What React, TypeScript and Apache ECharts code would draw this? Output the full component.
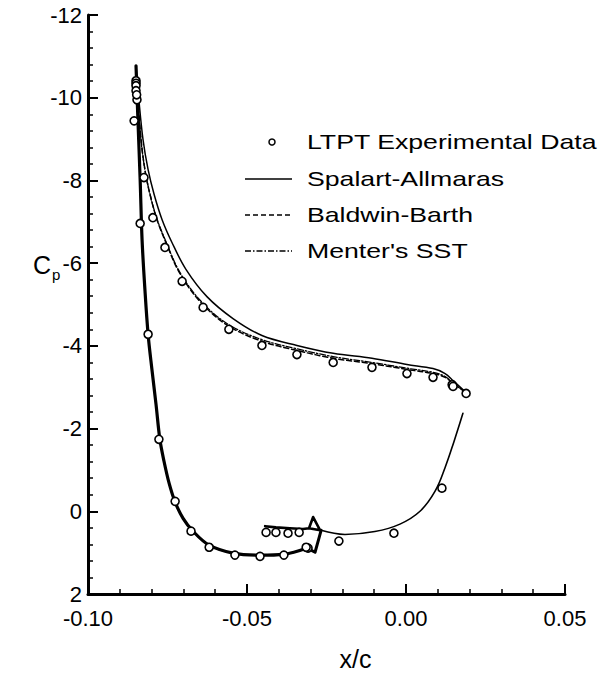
import React, { useEffect, useRef } from "react";
import * as echarts from "echarts";

// ---------- Data ----------
// LTPT experimental data (x/c, Cp)
const expX = [
  -0.0849, -0.0849, -0.0849, -0.0849, -0.0846, -0.0847, -0.0855, -0.0824, -0.0796, -0.0836,
  -0.0758, -0.0704, -0.0638, -0.0557, -0.0811, -0.0453, -0.0343, -0.0229, -0.0107, 0.0003,
  0.0085, 0.0145, 0.0148, 0.0189, -0.0777, -0.0726, -0.0676, -0.0619, -0.0538, -0.0459,
  -0.0384, -0.0308, -0.0314, -0.0440, -0.0409, -0.0371, -0.0336, -0.0211, -0.0038, 0.0113,
];
const expCp = [
  -10.41, -10.35, -10.29, -10.17, -9.95, -10.07, -9.44, -8.07, -7.1, -6.96,
  -6.38, -5.56, -4.93, -4.4, -4.28, -4.01, -3.79, -3.6, -3.48, -3.33,
  -3.24, -3.06, -3.02, -2.85, -1.74, -0.24, 0.48, 0.87, 1.06, 1.09,
  1.06, 0.89, 0.87, 0.51, 0.51, 0.53, 0.51, 0.72, 0.53, -0.56,
];

// Spalart-Allmaras, upper surface (leading edge -> trailing edge)
const saUpperX = [
  -0.0849, -0.084, -0.0827, -0.0811, -0.0792, -0.0767, -0.0736, -0.0692, -0.0626, -0.0544,
  -0.0453, -0.0343, -0.0229, -0.0107, 0.0003, 0.0085, 0.0123, 0.0148, 0.0189,
];
const saUpperCp = [
  -10.77, -9.95, -8.99, -8.26, -7.66, -7.05, -6.5, -5.85, -5.19, -4.66,
  -4.25, -4.01, -3.82, -3.7, -3.55, -3.45, -3.33, -3.16, -2.87,
];

// Baldwin-Barth, upper surface
const bbUpperX = [
  -0.0849, -0.0843, -0.0833, -0.0821, -0.0805, -0.0783, -0.0755, -0.0711, -0.0645, -0.056,
  -0.0453, -0.0343, -0.0229, -0.0107, 0.0003, 0.0085, 0.0123, 0.0148, 0.0189,
];
const bbUpperCp = [
  -10.72, -9.95, -8.99, -8.26, -7.66, -7.05, -6.5, -5.75, -5.05, -4.49,
  -4.11, -3.89, -3.7, -3.57, -3.43, -3.33, -3.24, -3.09, -2.87,
];

// Menter's SST, upper surface
const sstUpperX = [
  -0.0849, -0.0843, -0.0834, -0.0822, -0.0806, -0.0784, -0.0756, -0.0712, -0.0646, -0.0561,
  -0.0453, -0.0343, -0.0229, -0.0107, 0.0003, 0.0085, 0.0123, 0.0148, 0.0189,
];
const sstUpperCp = [
  -10.72, -9.97, -9.02, -8.3, -7.7, -7.09, -6.54, -5.79, -5.09, -4.53,
  -4.15, -3.93, -3.74, -3.6, -3.46, -3.36, -3.26, -3.1, -2.87,
];

// Lower surface, leading edge -> cusp (the three models coincide)
const lowerFrontX = [
  -0.0849, -0.0843, -0.0836, -0.083, -0.0821, -0.0811, -0.0799, -0.0786, -0.0774, -0.0761,
  -0.0745, -0.0726, -0.0701, -0.067, -0.0619, -0.0544, -0.0459, -0.0384, -0.0311,
];
const lowerFrontCp = [
  -10.77, -9.47, -8.02, -6.57, -5.36, -4.28, -3.43, -2.58, -1.74, -1.21,
  -0.68, -0.22, 0.17, 0.48, 0.82, 1.01, 1.06, 1.04, 0.89,
];

// Cusp corner
const cuspX = [-0.0311, -0.0286, -0.0273, -0.0267];
const cuspCp = [0.89, 0.99, 0.63, 0.46];

// Cove, aft part up to the trailing edge
const lowerAftX = [-0.0267, -0.0192, -0.0098, -0.0019, 0.0044, 0.0091, 0.0123, 0.0151, 0.0179];
const lowerAftCp = [0.46, 0.56, 0.49, 0.31, 0.0, -0.48, -1.06, -1.69, -2.37];

// Cove, forward branch (with the small spike)
const coveX = [-0.0443, -0.0409, -0.0365, -0.0324, -0.0305, -0.0292, -0.027, -0.0305];
const coveCp = [0.36, 0.39, 0.41, 0.43, 0.41, 0.14, 0.46, 0.41];

// Axis ticks
const xTicks = { min: -0.1, max: 0.05, step: 0.05 };
const yTicks = { min: -12, max: 2, step: 2 };

const legendNames = ["LTPT Experimental Data", "Spalart-Allmaras", "Baldwin-Barth", "Menter's SST"];

// ---------- Chart ----------
const FONT = "'Liberation Sans', Arial, Helvetica, sans-serif";
const pairs = (xs: number[], ys: number[]) => xs.map((x, i) => [x, ys[i]]);

const line = (name: string, xs: number[], ys: number[], width: number, type: any, smooth: boolean | number, z: number) => ({
  type: "line",
  name,
  data: pairs(xs, ys),
  showSymbol: false,
  symbol: "none",
  smooth,
  silent: true,
  z,
  lineStyle: { color: "#000", width, type, cap: "round", join: "round" },
});

const DASH = [5, 3];
const DASHDOT = [6, 2, 1.5, 2];

export default function App() {
  const ref = useRef<HTMLDivElement>(null);
  useEffect(() => {
    if (!ref.current) return;
    const chart = echarts.init(ref.current, null, { renderer: "svg" });
    const legendRowY = [142, 179, 215, 251];
    chart.setOption({
      animation: false,
      backgroundColor: "#fff",
      grid: { left: 88, right: 49, top: 15, bottom: 81, containLabel: false },
      xAxis: {
        type: "value",
        min: xTicks.min,
        max: xTicks.max,
        interval: xTicks.step,
        name: "x/c",
        nameLocation: "middle",
        nameGap: 52,
        nameTextStyle: { fontSize: 25, color: "#000", fontFamily: FONT, padding: [0, 0, 0, 58] },
        axisLine: { show: true, onZero: false, lineStyle: { color: "#000", width: 3 } },
        axisTick: { show: true, inside: true, length: 10, lineStyle: { color: "#000", width: 2 } },
        minorTick: { show: true, splitNumber: 5, length: 5, lineStyle: { color: "#000", width: 1.5 } },
        axisLabel: {
          fontSize: 22,
          lineHeight: 20,
          color: "#000",
          fontFamily: FONT,
          margin: 14,
          formatter: (v: number) => (Math.abs(v) < 1e-9 ? "0.00" : v.toFixed(2)),
        },
        splitLine: { show: false },
        minorSplitLine: { show: false },
      },
      yAxis: {
        type: "value",
        inverse: true,
        min: yTicks.min,
        max: yTicks.max,
        interval: yTicks.step,
        axisLine: { show: true, onZero: false, lineStyle: { color: "#000", width: 3 } },
        axisTick: { show: true, inside: true, length: 10, lineStyle: { color: "#000", width: 2 } },
        minorTick: { show: true, splitNumber: 5, length: 5, lineStyle: { color: "#000", width: 1.5 } },
        axisLabel: { fontSize: 22, lineHeight: 18, color: "#000", fontFamily: FONT, margin: 6 },
        splitLine: { show: false },
        minorSplitLine: { show: false },
      },
      series: [
        line(legendNames[2], bbUpperX, bbUpperCp, 1.5, DASH, 0.35, 2),
        line(legendNames[3], sstUpperX, sstUpperCp, 1.3, DASHDOT, 0.35, 2),
        line(legendNames[2], lowerFrontX, lowerFrontCp, 1.5, DASH, 0.35, 2),
        line(legendNames[3], lowerFrontX, lowerFrontCp, 1.5, DASHDOT, 0.35, 2),
        line(legendNames[1], saUpperX, saUpperCp, 1.5, "solid", 0.35, 3),
        line(legendNames[1], lowerFrontX, lowerFrontCp, 3.2, "solid", 0.35, 3),
        line(legendNames[1], cuspX, cuspCp, 3, "solid", false, 3),
        line(legendNames[1], lowerAftX, lowerAftCp, 1.6, "solid", 0.4, 3),
        line(legendNames[1], coveX, coveCp, 2.6, "solid", false, 3),
        {
          type: "scatter",
          name: legendNames[0],
          data: pairs(expX, expCp),
          symbol: "circle",
          symbolSize: 8,
          silent: true,
          z: 5,
          itemStyle: { color: "#fff", borderColor: "#000", borderWidth: 1.6, opacity: 1 },
        },
      ],
      graphic: [
        { type: "circle", shape: { cx: 272, cy: legendRowY[0], r: 3 }, style: { fill: "#fff", stroke: "#000", lineWidth: 1.5 } },
        { type: "line", shape: { x1: 245, y1: legendRowY[1], x2: 292, y2: legendRowY[1] }, style: { stroke: "#000", lineWidth: 1.5 } },
        { type: "line", shape: { x1: 245, y1: legendRowY[2], x2: 292, y2: legendRowY[2] }, style: { stroke: "#000", lineWidth: 1.5, lineDash: DASH } },
        { type: "line", shape: { x1: 245, y1: legendRowY[3], x2: 292, y2: legendRowY[3] }, style: { stroke: "#000", lineWidth: 1.3, lineDash: DASHDOT } },
        ...legendNames.map((t, i) => ({
          type: "text",
          x: 307,
          y: legendRowY[i],
          scaleX: 1.27,
          style: { text: t, fontSize: 21, fontFamily: FONT, fill: "#000", align: "left", verticalAlign: "middle" },
        })),
        {
          type: "text",
          x: 33,
          y: 265,
          style: { text: "C", fontSize: 25, fontFamily: FONT, fill: "#000", align: "left", verticalAlign: "middle" },
        },
        {
          type: "text",
          x: 52,
          y: 274,
          style: { text: "p", fontSize: 15, fontFamily: FONT, fill: "#000", align: "left", verticalAlign: "middle" },
        },
      ],
    });
    return () => chart.dispose();
  }, []);
  return (
    <div
      ref={ref}
      style={{ position: "fixed", left: 0, top: 0, width: 614, height: 676, background: "#fff" }}
    />
  );
}
